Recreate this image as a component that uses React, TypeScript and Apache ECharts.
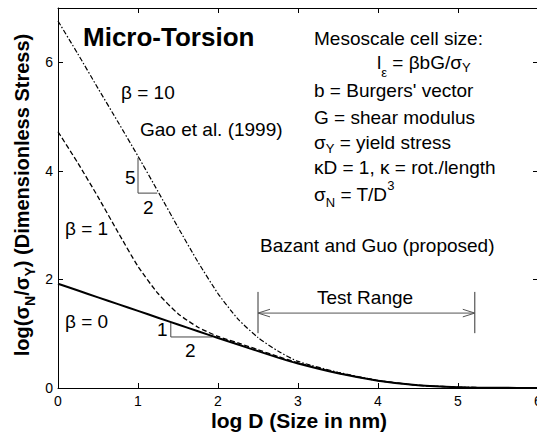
import React, { useEffect, useRef } from 'react';
import * as echarts from 'echarts';

const FONT = "'Liberation Sans', Arial, Helvetica, sans-serif";

// log D (size in nm) sample points
const logD = [0, 0.25, 0.5, 0.75, 1, 1.25, 1.5, 1.75, 2, 2.25, 2.5, 2.75, 3, 3.5, 4, 4.5, 5, 5.5, 6];
// Bazant and Guo (proposed), beta = 0
const beta0 = [1.92, 1.795, 1.67, 1.545, 1.42, 1.295, 1.17, 1.045, 0.92, 0.8, 0.68, 0.56, 0.45, 0.27, 0.135, 0.05, 0.015, 0.004, 0.001];
// Gao et al. (1999), beta = 1
const beta1 = [4.72, 4.14, 3.52, 2.87, 2.24, 1.74, 1.37, 1.12, 0.95, 0.83, 0.705, 0.58, 0.465, 0.275, 0.137, 0.05, 0.016, 0.004, 0.001];
// Gao et al. (1999), beta = 10
const beta10 = [6.76, 6.15, 5.52, 4.9, 4.27, 3.62, 2.96, 2.32, 1.74, 1.27, 0.93, 0.68, 0.49, 0.29, 0.14, 0.05, 0.016, 0.004, 0.001];

// slope triangles
const tri10X = [1, 1, 1.24];
const tri10Y = [4.24, 3.59, 3.59];
const tri0X = [1.41, 1.41, 1.93];
const tri0Y = [1.2, 0.94, 0.94];

// test range
const rangeX = [2.5, 5.21];
const rangeBarY = [1.01, 1.77];
const rangeArrowY = 1.38;
const headDX = 0.15;
const headDY = 0.07;

const xTicks = [0, 6, 1];
const yTicks = [0, 7, 2];

const pairs = (xs: number[], ys: number[]) => xs.map((x, i) => [x, ys[i]]);

export default function App() {
  const ref = useRef<HTMLDivElement>(null);
  useEffect(() => {
    if (!ref.current) return;
    const chart = echarts.init(ref.current, undefined, { renderer: 'svg' });

    const axisLineStyle = { color: '#000', width: 1 };
    const xBase = {
      type: 'value',
      min: xTicks[0],
      max: xTicks[1],
      interval: xTicks[2],
      splitLine: { show: false },
      axisLine: { show: true, onZero: false, lineStyle: axisLineStyle },
      axisTick: { show: true, inside: true, length: 5, lineStyle: axisLineStyle },
    };
    const yBase = {
      type: 'value',
      min: yTicks[0],
      max: yTicks[1],
      interval: yTicks[2],
      splitLine: { show: false },
      axisLine: { show: true, onZero: false, lineStyle: axisLineStyle },
      axisTick: { show: true, inside: true, length: 5, lineStyle: axisLineStyle },
    };

    const thin = (data: number[][], color = '#333') => ({
      type: 'line',
      data,
      symbol: 'none',
      silent: true,
      lineStyle: { color, width: 1 },
      z: 1,
    });

    const main = { fontSize: 19, fontFamily: FONT, color: '#000' };
    const txt = (x: number, y: number, text: string, extra: any = {}) => ({
      type: 'text',
      x,
      y,
      silent: true,
      style: {
        text,
        fill: '#000',
        fontSize: 19,
        fontFamily: FONT,
        align: 'left',
        verticalAlign: 'middle',
        ...extra,
      },
    });
    const richTxt = (x: number, y: number, text: string, lh: number, extraRich: any = {}) => ({
      type: 'text',
      x,
      y,
      silent: true,
      style: {
        text,
        fill: '#000',
        fontSize: 19,
        fontFamily: FONT,
        align: 'left',
        verticalAlign: 'middle',
        rich: {
          a: { ...main, lineHeight: lh, verticalAlign: 'middle' },
          s: { fontSize: 13, fontFamily: FONT, color: '#000', verticalAlign: 'bottom' },
          p: { fontSize: 13, fontFamily: FONT, color: '#000', verticalAlign: 'top' },
          ...extraRich,
        },
      },
    });

    const option: any = {
      animation: false,
      backgroundColor: '#fff',
      grid: { left: 58, top: 8, width: 480, height: 380, outerBoundsMode: 'none', containLabel: false },
      xAxis: [
        {
          ...xBase,
          position: 'bottom',
          axisLabel: { color: '#000', fontSize: 14, fontFamily: FONT, margin: 6 },
        },
        { ...xBase, position: 'top', axisLabel: { show: false } },
      ],
      yAxis: [
        {
          ...yBase,
          position: 'left',
          axisLabel: { color: '#000', fontSize: 14, fontFamily: FONT, margin: 5, showMaxLabel: false },
        },
        { ...yBase, position: 'right', axisLabel: { show: false } },
      ],
      series: [
        {
          name: 'β = 0',
          type: 'line',
          data: pairs(logD, beta0),
          symbol: 'none',
          smooth: 0.2,
          lineStyle: { color: '#000', width: 2 },
          z: 3,
        },
        {
          name: 'β = 1',
          type: 'line',
          data: pairs(logD, beta1),
          symbol: 'none',
          smooth: 0.2,
          lineStyle: { color: '#000', width: 1.3, type: [5, 2.5] },
          z: 2,
        },
        {
          name: 'β = 10',
          type: 'line',
          data: pairs(logD, beta10),
          symbol: 'none',
          smooth: 0.2,
          lineStyle: { color: '#000', width: 1.2, type: [5, 2, 1.5, 2] },
          z: 2,
        },
        thin(pairs(tri10X, tri10Y), '#444'),
        thin(pairs(tri0X, tri0Y), '#444'),
        thin([[rangeX[0], rangeBarY[0]], [rangeX[0], rangeBarY[1]]]),
        thin([[rangeX[1], rangeBarY[0]], [rangeX[1], rangeBarY[1]]]),
        thin([[rangeX[0], rangeArrowY], [rangeX[1], rangeArrowY]], '#555'),
        thin([
          [rangeX[0] + headDX, rangeArrowY + headDY],
          [rangeX[0], rangeArrowY],
          [rangeX[0] + headDX, rangeArrowY - headDY],
        ], '#555'),
        thin([
          [rangeX[1] - headDX, rangeArrowY + headDY],
          [rangeX[1], rangeArrowY],
          [rangeX[1] - headDX, rangeArrowY - headDY],
        ], '#555'),
      ],
      graphic: [
        txt(83, 37, 'Micro-Torsion', { fontSize: 26, fontWeight: 'bold' }),
        txt(121, 92, 'β = 10'),
        txt(140, 129, 'Gao et al. (1999)'),
        txt(125, 177, '5'),
        txt(143, 207, '2'),
        txt(65, 228, 'β = 1'),
        txt(65, 321, 'β = 0'),
        txt(157, 329, '1'),
        txt(185, 350, '2'),
        txt(314, 38, 'Mesoscale cell size:'),
        richTxt(377, 62, '{a|l}{e|ε}{a| = βbG/σ}{y|Y}', 34, {
          e: { fontSize: 13, fontFamily: FONT, color: '#000', verticalAlign: 'bottom' },
          y: { fontSize: 13, fontFamily: FONT, color: '#000', verticalAlign: 'bottom', padding: [0, 0, 5, 0] },
        }),
        txt(314, 90, "b = Burgers' vector"),
        txt(314, 117, 'G = shear modulus'),
        richTxt(314, 142, '{a|σ}{s|Y}{a| = yield stress}', 25),
        txt(314, 167, 'κD = 1, κ = rot./length'),
        richTxt(314, 194, '{a|σ}{s|N}{a| = T/D}{p|3}', 30),
        txt(260, 245, 'Bazant and Guo (proposed)'),
        txt(317, 297, 'Test Range'),
        txt(299, 420, 'log D (Size in nm)', { fontSize: 21, fontWeight: 'bold', align: 'center' }),
        {
          type: 'text',
          x: 22,
          y: 195,
          rotation: Math.PI / 2,
          silent: true,
          style: {
            text: '{a|log(σ}{s|N}{a|/σ}{s|Y}{a|) (Dimensionless Stress)}',
            fill: '#000',
            fontSize: 20,
            fontWeight: 'bold',
            fontFamily: FONT,
            align: 'center',
            verticalAlign: 'middle',
            rich: {
              a: { fontSize: 20, fontWeight: 'bold', fontFamily: FONT, color: '#000', lineHeight: 30, verticalAlign: 'middle' },
              s: { fontSize: 14, fontWeight: 'bold', fontFamily: FONT, color: '#000', verticalAlign: 'bottom' },
            },
          },
        },
      ],
    };
    chart.setOption(option);
    return () => chart.dispose();
  }, []);
  return <div ref={ref} style={{ position: 'fixed', left: 0, top: 0, width: 537, height: 436, background: '#fff' }} />;
}
